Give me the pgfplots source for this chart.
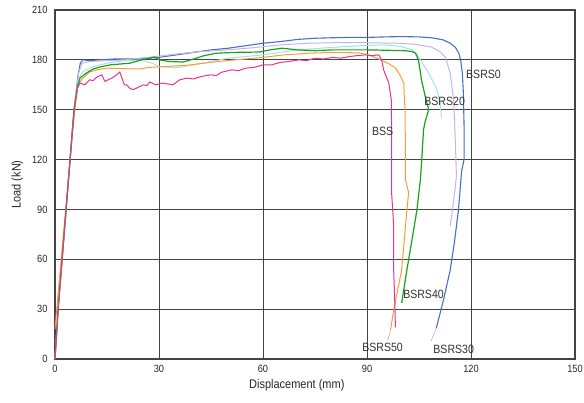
\documentclass[border=0pt]{standalone}
\usepackage{fontspec}
\setmainfont{Liberation Sans}[FakeStretch=0.88]
\usepackage{pgfplots}
\pgfplotsset{compat=1.18}
\definecolor{cblue}{HTML}{4A6FC8}
\definecolor{clav}{HTML}{C4B6E2}
\definecolor{ccyan}{HTML}{9EE3EA}
\definecolor{cgreen}{HTML}{1AA31A}
\definecolor{corange}{HTML}{FF9A3A}
\definecolor{cmag}{HTML}{E8348C}
\definecolor{cgrid}{HTML}{444444}
\begin{document}
\begin{tikzpicture}
\path[use as bounding box] (-55pt,-44pt) rectangle (529pt,359pt);
\begin{axis}[
  scale only axis, width=520pt, height=349pt,
  xmin=0, xmax=150, ymin=0, ymax=210,
  xtick={0,30,...,150}, ytick={0,30,...,210},
  grid=major,
  major grid style={cgrid, line width=1pt},
  axis line style={cgrid, line width=1.2pt},
  major tick length=0pt,
  /pgf/number format/assume math mode=true,
  tick label style={font=\fontsize{10.5}{12}\selectfont, color=black!85},
  xticklabel style={yshift=-3pt},
  yticklabel style={xshift=-4pt},
  xlabel={Displacement (mm)},
  ylabel={Load (kN)},
  label style={font=\fontsize{12.5}{14}\selectfont, color=black!85},
  xlabel style={at={(axis description cs:0.465,-0.048)}, anchor=north},
  ylabel style={yshift=2pt},
  clip=false,
]
% BSRS0 blue
\addplot[cblue, line width=1.1pt] coordinates {
(0,0)(0.9,30)(3.2,90)(5.5,150)(6.6,170)(7.3,178)(8,180)(10,179.5)(13,180)(17,180.5)(22,180.5)(27,181)(30,181.5)(35,183)(40,184.5)(45,186)(50,187)(55,188.5)(60,190)(65,191)(70,192.3)(75,193)(80,193.3)(85,193.5)(90,193.5)(95,193.8)(100,194)(105,193.8)(109,193.2)(112,192)(114,190)(115.5,187.5)(116.5,184)(117,180)(117.5,172)(117.8,160)(118,140)(118,120)(117.3,113)(116.4,90)(115.2,70)(114,53.5)(112,35)(110,18.7)};
% lavender
\addplot[clav, line width=1pt] coordinates {
(0,0)(0.9,30)(5.5,150)(6.8,172)(7.8,178)(10,179)(15,179.5)(20,180)(27,181.5)(35,183.5)(42,185)(50,186)(58,187.5)(65,189)(73,190)(80,190.3)(90,190.3)(99,190)(104,189.3)(108.6,187.7)(111,185)(112.6,181.6)(114,172)(115,156)(115.5,130)(115.8,110)(115,95)(114,80)};
% cyan
\addplot[ccyan, line width=1pt] coordinates {
(0,0)(0.9,30)(5.5,150)(6.7,168)(8,173)(11,176)(15,178)(20,179.5)(25,180)(28,178)(30,176)(33,175.5)(36,175.5)(40,177)(45,179)(50,181)(55,182)(60,183)(65,184.5)(70,186)(80,187.5)(88,188.5)(95,189)(100,188)(103,186)(104.5,183)(106,178)(107.8,172)(110,163)(111,155)(111.5,145)};
% orange
\addplot[corange, line width=1pt] coordinates {
(0,18)(0.5,30)(2,65)(3.5,100)(5,135)(6,155)(6.6,165)(8,169)(10,172.7)(12,174)(15,175)(20,174.7)(24.4,174.5)(27.3,175.5)(32,176)(38.8,176.9)(45,178.5)(52,180)(60,181.5)(66,183)(73.3,184)(80,184.5)(87.6,184.2)(90.5,183)(93.4,180.5)(96,178)(98.2,175)(99.5,171)(100.6,166)(100.8,156)(101,150)(101.1,108)(102,100)(101.5,89.6)(100,53.5)(97.7,29.5)(96.8,17.5)};
% green
\addplot[cgreen, line width=1.2pt] coordinates {
(0,0)(0.9,30)(5.5,150)(6.5,164)(7.2,169)(9,172)(11,174.5)(12.9,175.7)(16,177)(21.6,178)(25,180)(28.7,181.7)(30,180)(33,179)(37,178.7)(40,180.5)(43,182.5)(46.5,184)(52,184.5)(59,184.7)(62,186)(65.5,187)(70,186)(75,185.5)(80,186)(85,186)(90,186)(95,185.8)(101,185.5)(103,185)(104,184)(104.8,180)(105.3,174)(105.7,168)(106.8,158)(107.8,150)(106.8,143)(106.3,138)(105.8,120)(105.4,108)(104.4,89.6)(103,72)(101.5,53.5)(100,33.7)};
% BSS magenta
\addplot[cmag, line width=1pt] coordinates {
(0,0)(0.9,30)(3.2,90)(5.5,150)(6.5,163)(7.2,166)(8.6,165)(10,168)(11,167.5)(12,169.5)(13.5,171)(14.4,167)(15.3,168)(16.4,169)(17.8,171)(18.7,172.7)(19.5,168)(20,165)(20.7,165)(21.5,163)(22.5,162)(24,163.5)(25.5,165)(26.5,164.5)(27.3,166.7)(29,165)(31,166)(32.5,165.5)(34,165)(36,168)(38,169)(40,168.5)(41.7,169.7)(43.5,170.5)(45,171)(46.5,170.5)(48,172.5)(51,174)(53,173.5)(55,175)(57.5,175.5)(60,177)(62.5,177)(65,178.5)(67.5,179)(70.4,180)(72.5,179.5)(75,181)(77.5,180.5)(80,181.5)(82.5,181)(85,182)(87,182.5)(89.6,183)(91.5,182.5)(93.4,183)(94.2,180)(94.8,174)(96.3,166)(97,156)(97.1,140)(97.1,100)(97.7,80)(97.7,53)(98,35)(98.2,19)};
% labels
\begin{scope}[every node/.style={font=\fontsize{12}{14}\selectfont, text=black!80, inner sep=1pt}]
\node at (axis cs:123.6,171.5) {BSRS0};
\node at (axis cs:112.4,155) {BSRS20};
\node at (axis cs:94.5,137) {BSS};
\node at (axis cs:106.3,39) {BSRS40};
\node at (axis cs:94.5,7) {BSRS50};
\node at (axis cs:115,5.5) {BSRS30};
\end{scope}
\draw[black!40, line width=0.4pt] (axis cs:96,11.5) -- (axis cs:96.8,17.5);
\draw[black!40, line width=0.4pt] (axis cs:108.5,11) -- (axis cs:110,18.7);
\end{axis}
\end{tikzpicture}
\end{document}
